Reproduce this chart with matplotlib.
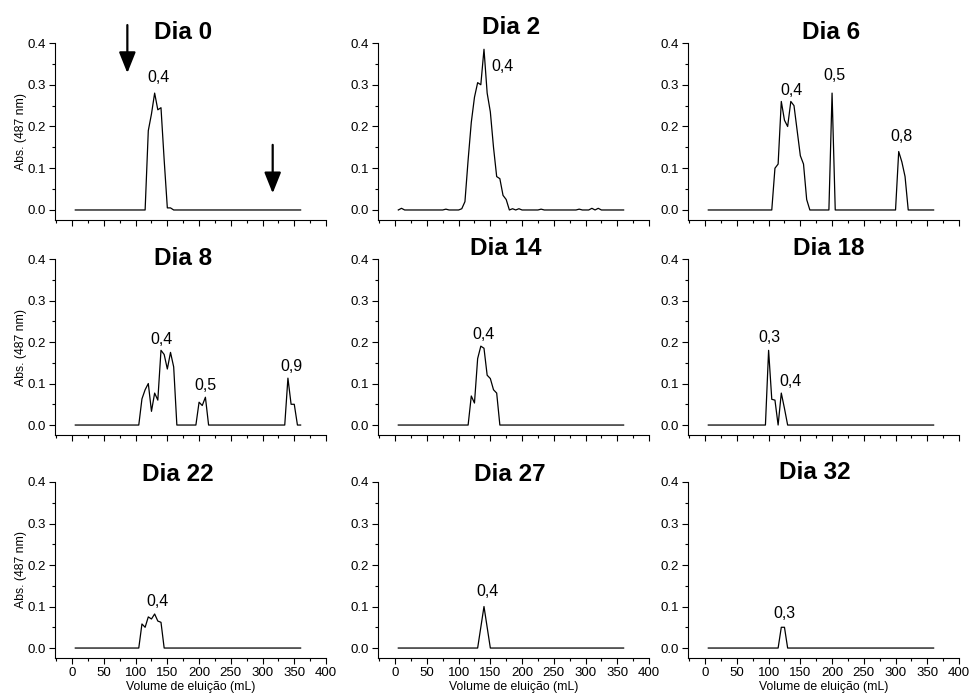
import matplotlib
matplotlib.use("Agg")
import matplotlib.pyplot as plt
from matplotlib.ticker import MultipleLocator

plt.rcParams['font.family'] = ['Liberation Sans', 'DejaVu Sans']

# elution volume (mL) and absorbance at 487 nm, one pair per day
d0_x = [5, 115, 120, 125, 130, 135, 140, 145, 150, 155, 160, 360]
d0_y = [0, 0, 0.19, 0.23, 0.28, 0.24, 0.245, 0.12, 0.005, 0.005, 0, 0]

d2_x = [5, 10, 15, 75, 80, 85, 100, 105, 110, 115, 120, 125, 130, 135, 140, 145,
        150, 155, 160, 165, 170, 175, 180, 185, 190, 195, 200, 205, 225, 230,
        235, 285, 290, 295, 305, 310, 315, 320, 325, 330, 360]
d2_y = [0, 0.004, 0, 0, 0.002, 0, 0, 0.003, 0.02, 0.12, 0.21, 0.27, 0.305, 0.30,
        0.385, 0.28, 0.235, 0.15, 0.08, 0.075, 0.035, 0.025, 0, 0.003, 0, 0.003,
        0, 0, 0, 0.002, 0, 0, 0.002, 0, 0, 0.004, 0, 0.004, 0, 0, 0]

d6_x = [5, 105, 110, 115, 120, 125, 130, 135, 140, 145, 150, 155, 160, 165, 195,
        200, 205, 300, 305, 310, 315, 320, 360]
d6_y = [0, 0, 0.10, 0.11, 0.26, 0.215, 0.20, 0.26, 0.25, 0.19, 0.13, 0.11, 0.025,
        0, 0, 0.28, 0, 0, 0.14, 0.115, 0.08, 0, 0]

d8_x = [5, 105, 110, 115, 120, 125, 130, 135, 140, 145, 150, 155, 160, 165, 195,
        200, 205, 210, 215, 335, 340, 345, 350, 355, 360]
d8_y = [0, 0, 0.063, 0.085, 0.10, 0.033, 0.077, 0.06, 0.18, 0.17, 0.135, 0.175,
        0.14, 0, 0, 0.055, 0.047, 0.067, 0, 0, 0.113, 0.05, 0.05, 0, 0]

d14_x = [5, 115, 120, 125, 130, 135, 140, 145, 150, 155, 160, 165, 360]
d14_y = [0, 0, 0.07, 0.053, 0.16, 0.19, 0.185, 0.12, 0.112, 0.085, 0.077, 0, 0]

d18_x = [5, 95, 100, 105, 110, 115, 120, 125, 130, 360]
d18_y = [0, 0, 0.18, 0.062, 0.06, 0, 0.077, 0.04, 0, 0]

d22_x = [5, 105, 110, 115, 120, 125, 130, 135, 140, 145, 360]
d22_y = [0, 0, 0.058, 0.05, 0.075, 0.07, 0.082, 0.065, 0.062, 0, 0]

d27_x = [5, 130, 140, 150, 360]
d27_y = [0, 0, 0.10, 0, 0]

d32_x = [5, 115, 120, 125, 130, 360]
d32_y = [0, 0, 0.05, 0.05, 0, 0]

titles = ['Dia 0', 'Dia 2', 'Dia 6', 'Dia 8', 'Dia 14', 'Dia 18',
          'Dia 22', 'Dia 27', 'Dia 32']
xs = [d0_x, d2_x, d6_x, d8_x, d14_x, d18_x, d22_x, d27_x, d32_x]
ys = [d0_y, d2_y, d6_y, d8_y, d14_y, d18_y, d22_y, d27_y, d32_y]

# title positions (data coords)
title_pos = [(175, 0.424), (182, 0.436), (199, 0.426),
             (175, 0.402), (175, 0.426), (195, 0.426),
             (167, 0.417), (180, 0.417), (173, 0.424)]

# peak labels: (panel, text, x, y)
peak_labels = [
    (0, '0,4', 136, 0.318),
    (1, '0,4', 169, 0.343),
    (2, '0,4', 136, 0.287), (2, '0,5', 204, 0.321), (2, '0,8', 309, 0.175),
    (3, '0,4', 141, 0.205), (3, '0,5', 210, 0.096), (3, '0,9', 345, 0.140),
    (4, '0,4', 139, 0.217),
    (5, '0,3', 101, 0.212), (5, '0,4', 134, 0.104),
    (6, '0,4', 134, 0.111),
    (7, '0,4', 146, 0.135),
    (8, '0,3', 125, 0.084),
]

W, H = 969, 696
fig = plt.figure(figsize=(W / 100, H / 100), dpi=100)

col_left = [55, 378, 688]
col_w = 271
row_top = [43, 259, 482]
row_h = [177, 176, 176]

axes = []
for i in range(9):
    r, c = divmod(i, 3)
    ax = fig.add_axes([col_left[c] / W, 1 - (row_top[r] + row_h[r]) / H,
                       col_w / W, row_h[r] / H])
    axes.append(ax)
    ax.plot(xs[i], ys[i], color='black', lw=0.9)
    ax.set_xlim(-27, 400)
    ax.set_ylim(-0.024, 0.4)
    ax.spines['top'].set_visible(False)
    ax.spines['right'].set_visible(False)
    ax.xaxis.set_major_locator(MultipleLocator(50))
    ax.xaxis.set_minor_locator(MultipleLocator(25))
    ax.yaxis.set_major_locator(MultipleLocator(0.1))
    ax.yaxis.set_minor_locator(MultipleLocator(0.05))
    ax.tick_params(which='major', direction='out', length=4, width=0.8,
                   labelsize=9.5, pad=2.5)
    ax.tick_params(which='minor', direction='out', length=2, width=0.8)
    ax.set_yticks([0, 0.1, 0.2, 0.3, 0.4])
    ax.set_yticklabels(['0.0', '0.1', '0.2', '0.3', '0.4'])
    if r < 2:
        ax.tick_params(axis='x', labelbottom=False)
    else:
        ax.set_xlabel('Volume de eluição (mL)', fontsize=8.8)
        ax.xaxis.set_label_coords(0.5, -0.128)
    if c == 0:
        ax.set_ylabel('Abs. (487 nm)', fontsize=8.8)
        ax.yaxis.set_label_coords(-0.104, 0.5)
    tx, ty = title_pos[i]
    ax.text(tx, ty, titles[i], ha='center', va='center', fontsize=17.5,
            fontweight='bold', clip_on=False)

for i, txt, x, y in peak_labels:
    axes[i].text(x, y, txt, ha='center', va='center', fontsize=11.5, clip_on=False)

# arrows in Dia 0 panel
for x0, y_tip, y_tail in [(87, 0.328, 0.443), (316, 0.040, 0.156)]:
    axes[0].annotate('', xy=(x0, y_tip), xytext=(x0, y_tail),
                     arrowprops=dict(arrowstyle='-|>,head_length=0.75,head_width=0.3',
                                     color='black', lw=1.6, mutation_scale=17,
                                     shrinkA=0, shrinkB=0),
                     annotation_clip=False)

fig.savefig('out.png', dpi=100)
